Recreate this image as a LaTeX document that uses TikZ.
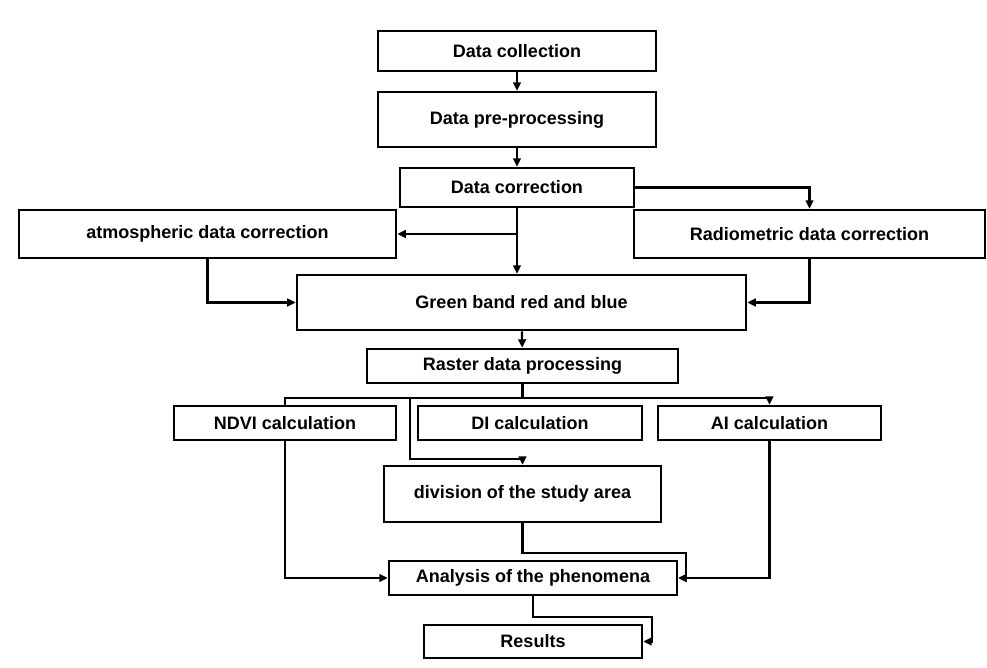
\documentclass[tikz,border=0pt]{standalone}
\usepackage{fontspec}
\setmainfont{Liberation Sans}
\usetikzlibrary{arrows.meta}

\begin{document}
\begin{tikzpicture}[x=0.025cm,y=-0.025cm,
  box/.style={draw=black,line width=1.8pt,rectangle,inner sep=0pt,
    font=\fontsize{12.8}{15}\selectfont\bfseries},
  link/.style={line width=1.6pt},
  arr/.style={link,-{Triangle[length=6pt,width=5.5pt]}}]
\useasboundingbox (0,0) rectangle (987,668);
% the boxes
\node[box,minimum width=6.95cm,minimum height=1cm] (coll) at (517,51) {Data collection};
\node[box,minimum width=6.95cm,minimum height=1.375cm] (pre) at (517,119.5) {Data pre-processing};
\node[box,minimum width=5.85cm,minimum height=0.975cm] (corr) at (517,187.5) {Data correction};
\node[box,minimum width=9.425cm,minimum height=1.2cm] (atm) at (207.5,234) {atmospheric data correction};
\node[box,minimum width=8.775cm,minimum height=1.2cm] (rad) at (809.5,234) {Radiometric data correction};
\node[box,minimum width=11.225cm,minimum height=1.375cm] (green) at (521.5,302.5) {Green band red and blue};
\node[box,minimum width=7.775cm,minimum height=0.85cm] (raster) at (522.5,366) {Raster data processing};
\node[box,minimum width=5.55cm,minimum height=0.85cm] (ndvi) at (285,423) {NDVI calculation};
\node[box,minimum width=5.6cm,minimum height=0.85cm] (di) at (530,423) {DI calculation};
\node[box,minimum width=5.575cm,minimum height=0.85cm] (ai) at (769.5,423) {AI calculation};
\node[box,minimum width=6.925cm,minimum height=1.4cm] (div) at (522.5,494) {division of the study area};
\node[box,minimum width=7.2cm,minimum height=0.85cm] (ana) at (533,578) {Analysis of the phenomena};
\node[box,minimum width=5.45cm,minimum height=0.825cm] (res) at (533,641.5) {Results};

% the links
\draw[arr] (coll) -- (pre);
\draw[arr] (pre) -- (corr);
\draw[arr] (corr.east) -| (rad.north);
\coordinate (split) at (corr.south |- atm.east);
\draw[arr] (corr.south) -- (corr.south |- green.north);
\draw[arr] (split) -- (atm.east);
\draw[arr] (atm.south) |- (green.west);
\draw[arr] (rad.south) |- (green.east);
\draw[arr] (green) -- (raster);
\coordinate (fork) at (raster.south |- 0,398);
\coordinate (bend) at (410,459);
\draw[link] (raster.south) -- (fork);
\draw[link] (fork) -| (ndvi.north);
\draw[arr] (fork) -| (ai.north);
\draw[arr] (fork) -| (bend) -| (div.north);
\draw[arr] (ndvi.south) |- (ana.west);
\draw[arr] (ai.south) |- (ana.east);
\coordinate (hook1) at (686,553);
\draw[arr] (div.south) |- (hook1) |- (ana.east);
\coordinate (hook2) at (652,617);
\draw[arr] (ana.south) |- (hook2) |- (res.east);
\end{tikzpicture}
\end{document}
